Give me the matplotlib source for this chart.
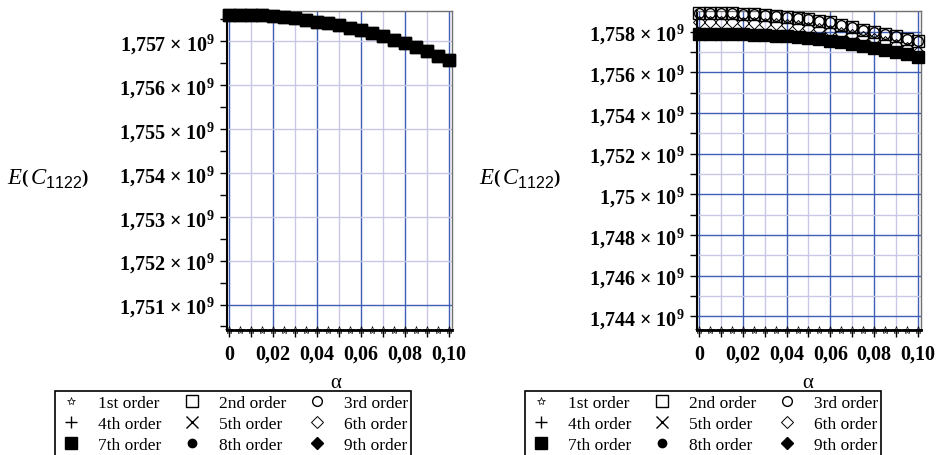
import matplotlib
matplotlib.use("Agg")
import matplotlib.pyplot as plt
from matplotlib.lines import Line2D

plt.rcParams['font.family'] = ['Liberation Serif', 'DejaVu Serif']
plt.rcParams['mathtext.fontset'] = 'custom'
plt.rcParams['mathtext.rm'] = 'Liberation Serif:bold'
plt.rcParams['mathtext.bf'] = 'Liberation Serif:bold'
plt.rcParams['mathtext.it'] = 'Liberation Serif:italic'
plt.rcParams['mathtext.sf'] = 'Liberation Sans'

# data
alpha = [0.0, 0.005, 0.01, 0.015, 0.02, 0.025, 0.03, 0.035, 0.04, 0.045, 0.05,
         0.055, 0.06, 0.065, 0.07, 0.075, 0.08, 0.085, 0.09, 0.095, 0.10]

# left panel: orders 2..9 coincide, 1st order sits on the bottom of the range
left_first = [1.75042e9] * 21
left_higher = [1.75761e9, 1.75761e9, 1.75760e9, 1.75759e9, 1.75758e9, 1.75756e9,
               1.75753e9, 1.75749e9, 1.75745e9, 1.75741e9, 1.75736e9, 1.75731e9,
               1.75726e9, 1.75719e9, 1.75712e9, 1.75704e9, 1.75696e9, 1.75686e9,
               1.75677e9, 1.75667e9, 1.75657e9]

# right panel
right_first = [1.74332e9] * 21
right_2nd = [1.75891e9, 1.75891e9, 1.75890e9, 1.75890e9, 1.75888e9, 1.75886e9,
             1.75882e9, 1.75877e9, 1.75872e9, 1.75867e9, 1.75861e9, 1.75853e9,
             1.75845e9, 1.75834e9, 1.75820e9, 1.75808e9, 1.75798e9, 1.75788e9,
             1.75777e9, 1.75765e9, 1.75752e9]
right_6th = [1.75848e9, 1.75848e9, 1.75847e9, 1.75846e9, 1.75844e9, 1.75842e9,
             1.75839e9, 1.75835e9, 1.75830e9, 1.75825e9, 1.75819e9, 1.75812e9,
             1.75804e9, 1.75795e9, 1.75785e9, 1.75774e9, 1.75762e9, 1.75749e9,
             1.75735e9, 1.75720e9, 1.75700e9]
right_7th = [1.75790e9, 1.75790e9, 1.75789e9, 1.75788e9, 1.75787e9, 1.75785e9,
             1.75783e9, 1.75780e9, 1.75777e9, 1.75773e9, 1.75768e9, 1.75762e9,
             1.75755e9, 1.75747e9, 1.75739e9, 1.75730e9, 1.75720e9, 1.75710e9,
             1.75699e9, 1.75688e9, 1.75677e9]

orders = ['1st order', '2nd order', '3rd order', '4th order', '5th order',
          '6th order', '7th order', '8th order', '9th order']
left_series = [left_first] + [left_higher] * 8
right_series = [right_first, right_2nd, right_2nd, right_7th, right_7th,
                right_6th, right_7th, right_7th, right_7th]

x_ticks = [0.0, 0.02, 0.04, 0.06, 0.08, 0.10]
x_labels = ['0', '0,02', '0,04', '0,06', '0,08', '0,10']
x_minor = [0.01, 0.03, 0.05, 0.07, 0.09]

left_yticks = [1.751e9, 1.752e9, 1.753e9, 1.754e9, 1.755e9, 1.756e9, 1.757e9]
left_ylabels = ['1,751', '1,752', '1,753', '1,754', '1,755', '1,756', '1,757']
left_yminor = [1.7505e9, 1.7515e9, 1.7525e9, 1.7535e9, 1.7545e9, 1.7555e9,
               1.7565e9, 1.7575e9]
right_yticks = [1.744e9, 1.746e9, 1.748e9, 1.750e9, 1.752e9, 1.754e9,
                1.756e9, 1.758e9]
right_ylabels = ['1,744', '1,746', '1,748', '1,75', '1,752', '1,754',
                 '1,756', '1,758']
right_yminor = [1.745e9, 1.747e9, 1.749e9, 1.751e9, 1.753e9, 1.755e9, 1.757e9]

# marker styles: (marker, filled, size, edge width)
styles = [('*', False, 6, 0.5), ('s', False, 8, 1.0), ('o', False, 7, 1.0),
          ('+', False, 9, 1.0), ('x', False, 8, 1.0), ('D', False, 6, 0.7),
          ('s', True, 8, 1.0), ('o', True, 6, 1.0), ('D', True, 6, 1.0)]

dark = '#3f5fb4'
light = '#c8c8e6'

fig = plt.figure(figsize=(9.38, 4.56), dpi=100)


def draw(ax, series, yticks, ylabels, yminor, ylim, dark_rows, minor_grid):
    ax.set_xlim(-0.001, 0.1015)
    ax.set_ylim(*ylim)
    for xv in x_ticks:
        ax.axvline(xv, color=dark, lw=1.0, zorder=0)
    for xv in x_minor:
        ax.axvline(xv, color=light, lw=1.0, zorder=0)
    for yv in yticks:
        ax.axhline(yv, color=dark if yv in dark_rows else light, lw=1.0, zorder=0)
    if minor_grid:
        for yv in yminor:
            ax.axhline(yv, color=light, lw=1.0, zorder=0)
    for vals, (m, filled, ms, mew) in zip(series, styles):
        ax.plot(alpha, vals, linestyle='none', marker=m, markersize=ms,
                markeredgewidth=mew, color='black',
                markerfacecolor='black' if filled else 'none',
                clip_on=False, zorder=3)
    ax.set_xticks(x_ticks)
    ax.set_xticklabels(x_labels, fontweight='bold', fontsize=14.5)
    ax.set_xticks(x_minor, minor=True)
    ax.set_yticks(yticks)
    ax.set_yticklabels([s + ' × 10$^{9}$' for s in ylabels],
                       fontweight='bold', fontsize=14.5)
    ax.set_yticks(yminor, minor=True)
    ax.tick_params(axis='both', which='both', direction='out', length=5,
                   width=1.0, color='black')
    ax.tick_params(axis='x', pad=5)
    ax.tick_params(axis='y', pad=4)
    for side in ['top', 'right']:
        ax.spines[side].set_color('#707070')
        ax.spines[side].set_linewidth(1.0)
    ax.spines['left'].set_linewidth(1.5)
    ax.spines['bottom'].set_linewidth(2.0)


ax1 = fig.add_axes([227 / 938, 1 - 331 / 456, 225 / 938, 319 / 456])
draw(ax1, left_series, left_yticks, left_ylabels, left_yminor,
     (1.75042e9, 1.75769e9), [1.751e9], False)

ax2 = fig.add_axes([697 / 938, 1 - 331 / 456, 224 / 938, 319 / 456])
draw(ax2, right_series, right_yticks, right_ylabels, right_yminor,
     (1.74332e9, 1.75901e9), right_yticks, True)

for xl, xa in [(48, 336), (520, 808)]:
    fig.text(xl / 938, 1 - 178 / 456, r'$E\left(\,C_{\mathsf{1122}}\right)$',
             fontsize=16.5, ha='center', va='center')
    fig.text(xa / 938, 1 - 384 / 456, 'α', fontsize=15, ha='center', va='center')

handles = [Line2D([], [], linestyle='none', marker=m, markersize=ms,
                  markeredgewidth=mew, color='black',
                  markerfacecolor='black' if filled else 'none')
           for (m, filled, ms, mew) in styles]
order = [0, 3, 6, 1, 4, 7, 2, 5, 8]
for xleg in [55, 525]:
    leg = fig.legend([handles[i] for i in order], [orders[i] for i in order],
                     ncol=3, loc='upper left',
                     bbox_to_anchor=(xleg / 938, 1 - 392 / 456),
                     fontsize=12.5, frameon=True, fancybox=False,
                     edgecolor='black', framealpha=1, borderaxespad=0,
                     borderpad=0.2, handlelength=1.5, handletextpad=0.8,
                     columnspacing=1.0, labelspacing=0.3)
    leg.get_frame().set_linewidth(1.2)

fig.savefig('out.png', dpi=100)
